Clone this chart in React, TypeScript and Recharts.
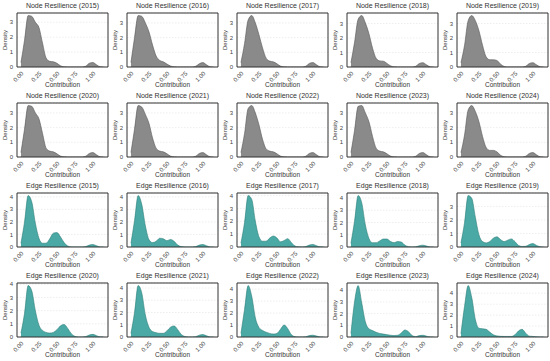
import { Area, AreaChart, CartesianGrid, ReferenceArea, XAxis, YAxis } from 'recharts';

// shared x grid (contribution values), one density series per panel
const CONTRIBUTION = [0, 0.05, 0.1, 0.15, 0.2, 0.25, 0.3, 0.35, 0.4, 0.45, 0.5, 0.55, 0.6, 0.65, 0.7, 0.75, 0.8, 0.85, 0.9, 0.95, 1.0, 1.05, 1.1, 1.15];
const YEARS_TOP = [2015, 2016, 2017, 2018, 2019];
const YEARS_BOTTOM = [2020, 2021, 2022, 2023, 2024];
const X_TICKS = [0, 0.25, 0.5, 0.75, 1];

const node2015 = [0.3, 1.8, 3.45, 3.4, 3.0, 2.65, 1.6, 0.6, 0.38, 0.35, 0.25, 0.08, 0.01, 0, 0, 0, 0, 0, 0.05, 0.25, 0.3, 0.15, 0.02, 0];
const node2016 = [0.3, 2.0, 3.5, 3.45, 3.0, 2.4, 1.5, 0.75, 0.45, 0.35, 0.2, 0.07, 0.01, 0, 0, 0, 0, 0, 0.05, 0.22, 0.3, 0.15, 0.02, 0];
const node2017 = [0.3, 1.6, 3.2, 3.5, 3.0, 2.2, 1.3, 0.6, 0.4, 0.35, 0.22, 0.06, 0.01, 0, 0, 0, 0, 0, 0.05, 0.24, 0.3, 0.15, 0.02, 0];
const node2018 = [0.3, 1.7, 3.3, 3.55, 3.05, 2.3, 1.3, 0.6, 0.42, 0.4, 0.25, 0.08, 0.01, 0, 0, 0, 0, 0, 0.05, 0.24, 0.3, 0.15, 0.02, 0];
const node2019 = [0.3, 1.5, 3.2, 3.55, 3.2, 2.5, 1.5, 0.7, 0.5, 0.5, 0.45, 0.2, 0.04, 0, 0, 0, 0, 0, 0.05, 0.24, 0.3, 0.15, 0.02, 0];
const node2020 = [0.3, 1.9, 3.5, 3.45, 3.0, 2.6, 1.6, 0.6, 0.4, 0.35, 0.22, 0.06, 0.01, 0, 0, 0, 0, 0, 0.05, 0.24, 0.3, 0.15, 0.02, 0];
const node2021 = [0.3, 1.9, 3.5, 3.4, 2.9, 2.3, 1.3, 0.6, 0.4, 0.35, 0.22, 0.06, 0.01, 0, 0, 0, 0, 0, 0.05, 0.24, 0.3, 0.15, 0.02, 0];
const node2022 = [0.3, 1.6, 3.3, 3.5, 3.0, 2.2, 1.2, 0.55, 0.4, 0.35, 0.22, 0.06, 0.01, 0, 0, 0, 0, 0, 0.05, 0.24, 0.3, 0.15, 0.02, 0];
const node2023 = [0.3, 1.8, 3.45, 3.5, 3.0, 2.4, 1.4, 0.6, 0.4, 0.35, 0.22, 0.06, 0.01, 0, 0, 0, 0, 0, 0.05, 0.24, 0.3, 0.15, 0.02, 0];
const node2024 = [0.3, 1.5, 3.2, 3.5, 3.1, 2.4, 1.4, 0.65, 0.45, 0.45, 0.35, 0.12, 0.02, 0, 0, 0, 0, 0, 0.05, 0.24, 0.3, 0.15, 0.02, 0];

const edge2015 = [0.3, 2.0, 4.1, 3.6, 1.9, 0.7, 0.3, 0.3, 0.65, 1.1, 1.15, 0.8, 0.35, 0.08, 0.01, 0, 0, 0, 0.03, 0.15, 0.2, 0.1, 0.01, 0];
const edge2016 = [0.3, 2.1, 4.1, 3.4, 1.7, 0.6, 0.35, 0.45, 0.7, 0.65, 0.5, 0.6, 0.45, 0.15, 0.03, 0, 0, 0, 0.03, 0.15, 0.2, 0.1, 0.01, 0];
const edge2017 = [0.3, 1.9, 4.0, 3.7, 2.0, 0.8, 0.45, 0.45, 0.7, 0.85, 0.7, 0.4, 0.5, 0.65, 0.35, 0.08, 0.01, 0, 0.03, 0.15, 0.2, 0.1, 0.01, 0];
const edge2018 = [0.3, 2.1, 4.2, 3.6, 1.8, 0.7, 0.35, 0.35, 0.5, 0.65, 0.65, 0.45, 0.35, 0.45, 0.4, 0.15, 0.03, 0, 0.02, 0.1, 0.15, 0.08, 0.01, 0];
const edge2019 = [0.3, 1.8, 3.8, 3.6, 2.2, 0.9, 0.4, 0.3, 0.4, 0.65, 0.75, 0.55, 0.4, 0.5, 0.6, 0.4, 0.12, 0.04, 0.05, 0.18, 0.25, 0.12, 0.02, 0];
const edge2020 = [0.3, 1.8, 3.9, 3.5, 2.0, 0.9, 0.5, 0.35, 0.3, 0.35, 0.55, 0.85, 0.95, 0.65, 0.25, 0.05, 0, 0, 0.03, 0.15, 0.2, 0.1, 0.01, 0];
const edge2021 = [0.3, 2.0, 4.2, 3.6, 1.8, 0.8, 0.45, 0.35, 0.3, 0.3, 0.5, 0.8, 0.9, 0.6, 0.2, 0.04, 0, 0, 0.03, 0.15, 0.2, 0.1, 0.01, 0];
const edge2022 = [0.3, 2.3, 4.3, 3.4, 1.6, 0.8, 0.55, 0.4, 0.3, 0.25, 0.3, 0.65, 1.0, 0.7, 0.2, 0.03, 0, 0, 0.02, 0.12, 0.15, 0.08, 0.01, 0];
const edge2023 = [0.3, 3.0, 4.4, 2.9, 1.3, 0.7, 0.55, 0.4, 0.3, 0.25, 0.2, 0.15, 0.12, 0.15, 0.35, 0.6, 0.45, 0.12, 0.03, 0.12, 0.15, 0.07, 0.01, 0];
const edge2024 = [0.3, 2.8, 4.7, 3.6, 1.6, 0.8, 0.75, 0.7, 0.45, 0.2, 0.1, 0.06, 0.05, 0.05, 0.05, 0.2, 0.55, 0.7, 0.35, 0.08, 0.05, 0.02, 0, 0];

const NODE_TOP = [node2015, node2016, node2017, node2018, node2019];
const NODE_BOTTOM = [node2020, node2021, node2022, node2023, node2024];
const EDGE_TOP = [edge2015, edge2016, edge2017, edge2018, edge2019];
const EDGE_BOTTOM = [edge2020, edge2021, edge2022, edge2023, edge2024];

const FONT = 'Arial, "Liberation Sans", sans-serif';
const PANEL_W = 110;
const PANEL_H = 90;
const PLOT_LEFT = 17;
const PLOT_TOP = 13;
const PLOT_W = 91;
const PLOT_H = 54;
const X_MIN = -0.055;
const X_MAX = 1.21;

const GRAY = { fill: '#8a8a8a', stroke: '#555555' };
const TEAL = { fill: '#4aa9a5', stroke: '#2b7d79' };

function Panel({ title, values, colors, left, top }: any) {
  const data = CONTRIBUTION.map((x, i) => ({ x, y: values[i] }));
  const peak = Math.max(...values);
  const yMax = peak * 1.05;
  const yTicks = [0, 1, 2, 3, 4].filter((t) => t <= yMax);

  return (
    <div style={{ position: 'absolute', left, top, width: PANEL_W, height: PANEL_H }}>
      <div
        style={{
          position: 'absolute',
          left: PLOT_LEFT,
          width: PLOT_W,
          top: 0,
          textAlign: 'center',
          fontSize: 7,
          lineHeight: '12px',
          color: '#333',
          whiteSpace: 'nowrap',
        }}
      >
        {title}
      </div>
      <AreaChart
        width={PANEL_W}
        height={PANEL_H}
        data={data}
        margin={{ top: PLOT_TOP, right: PANEL_W - PLOT_LEFT - PLOT_W, left: 0, bottom: 0 }}
      >
        <CartesianGrid vertical={false} stroke="#e2e2e2" strokeDasharray="1.5 1.5" strokeWidth={0.6} />
        <XAxis
          dataKey="x"
          type="number"
          domain={[X_MIN, X_MAX]}
          ticks={X_TICKS}
          allowDataOverflow
          height={PANEL_H - PLOT_TOP - PLOT_H}
          tickFormatter={(v: number) => v.toFixed(2)}
          tick={{ fontSize: 6, fill: '#444444', angle: -45, textAnchor: 'end', dy: 2 }}
          tickLine={false}
          axisLine={false}
          tickSize={1}
          tickMargin={1}
          interval={0}
        />
        <YAxis
          type="number"
          domain={[0, yMax]}
          ticks={yTicks}
          allowDataOverflow
          width={PLOT_LEFT}
          tick={{ fontSize: 6, fill: '#444444' }}
          tickLine={false}
          axisLine={false}
          tickSize={2}
          tickMargin={2}
          interval={0}
        />
        <Area
          type="monotone"
          dataKey="y"
          fill={colors.fill}
          fillOpacity={1}
          stroke={colors.stroke}
          strokeWidth={0.6}
          isAnimationActive={false}
          dot={false}
          activeDot={false}
        />
        <ReferenceArea
          x1={X_MIN}
          x2={X_MAX}
          y1={0}
          y2={yMax}
          fill="none"
          stroke="#333333"
          strokeWidth={1}
          ifOverflow="visible"
        />
      </AreaChart>
      <div
        style={{
          position: 'absolute',
          left: 5 - 30,
          top: PLOT_TOP + PLOT_H / 2 - 5,
          width: 60,
          height: 10,
          lineHeight: '10px',
          textAlign: 'center',
          fontSize: 6,
          color: '#333',
          transform: 'rotate(-90deg)',
        }}
      >
        Density
      </div>
      <div
        style={{
          position: 'absolute',
          left: PLOT_LEFT,
          width: PLOT_W,
          top: PANEL_H - 10,
          lineHeight: '10px',
          textAlign: 'center',
          fontSize: 6.5,
          color: '#333',
        }}
      >
        Contribution
      </div>
    </div>
  );
}

export default function App() {
  const rows = [
    { label: 'Node Resilience', years: YEARS_TOP, series: NODE_TOP, colors: GRAY },
    { label: 'Node Resilience', years: YEARS_BOTTOM, series: NODE_BOTTOM, colors: GRAY },
    { label: 'Edge Resilience', years: YEARS_TOP, series: EDGE_TOP, colors: TEAL },
    { label: 'Edge Resilience', years: YEARS_BOTTOM, series: EDGE_BOTTOM, colors: TEAL },
  ];

  return (
    <div
      style={{
        position: 'absolute',
        left: 0,
        top: 0,
        width: 550,
        height: 361,
        background: '#fff',
        fontFamily: FONT,
        overflow: 'hidden',
      }}
    >
      {rows.map((row, r) =>
        row.years.map((year, c) => (
          <Panel
            key={`${r}-${c}`}
            title={`${row.label} (${year})`}
            values={row.series[c]}
            colors={row.colors}
            left={c * PANEL_W}
            top={r * PANEL_H}
          />
        ))
      )}
    </div>
  );
}
